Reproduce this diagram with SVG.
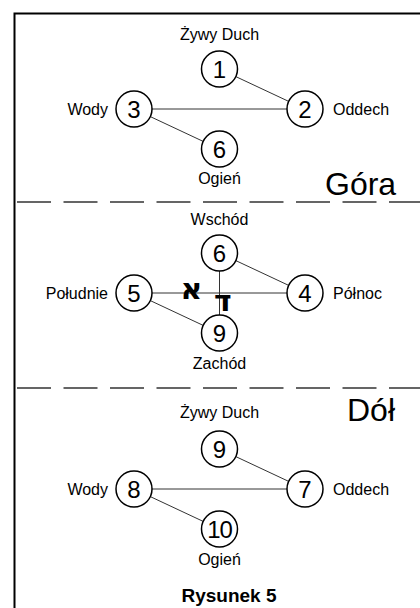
<svg xmlns="http://www.w3.org/2000/svg" width="420" height="608" viewBox="0 0 420 608">
<style>
.lbl{font-family:"Liberation Sans",Arial,sans-serif;font-size:16px;fill:#000}
.num{font-family:"Liberation Sans",Arial,sans-serif;font-size:24px;fill:#000;text-anchor:middle}
.big{font-family:"Liberation Sans",Arial,sans-serif;font-size:32px;fill:#000}
.node circle{fill:#fff;stroke:#000;stroke-width:1.5}
.conn line{stroke:#333;stroke-width:1}
.dash{stroke:#333;stroke-width:1.6;stroke-dasharray:34 12.5}
.heb{font-family:"DejaVu Sans","Liberation Sans",sans-serif;font-weight:bold;fill:#000}
</style>
<rect x="0" y="0" width="420" height="608" fill="#fff"/>
<rect x="14.5" y="13.5" width="420" height="620" fill="none" stroke="#000" stroke-width="2"/>
<line class="dash" x1="17" y1="202" x2="420" y2="202"/>
<line class="dash" x1="17" y1="388" x2="420" y2="388"/>
<g id="connectors" class="conn">
<line x1="235.8" y1="76.6" x2="288.7" y2="101.4"/>
<line x1="152" y1="109" x2="287" y2="109"/>
<line x1="150.3" y1="116.6" x2="203.2" y2="141.4"/>
<line x1="235.8" y1="260.6" x2="288.7" y2="285.4"/>
<line x1="152" y1="293" x2="287" y2="293"/>
<line x1="150.3" y1="300.6" x2="203.2" y2="325.4"/>
<line x1="219.5" y1="271" x2="219.5" y2="315"/>
<line x1="235.8" y1="456.6" x2="288.7" y2="481.4"/>
<line x1="152" y1="489" x2="287" y2="489"/>
<line x1="150.3" y1="496.6" x2="203.2" y2="521.4"/>
</g>
<g id="top-1" class="node"><circle cx="219.5" cy="69" r="18"/><text class="num" x="219.5" y="77.5">1</text><text class="lbl" x="219.5" y="40" text-anchor="middle">Żywy Duch</text></g>
<g id="top-2" class="node"><circle cx="305" cy="109" r="18"/><text class="num" x="305" y="117.5">2</text><text class="lbl" x="333" y="114.5">Oddech</text></g>
<g id="top-3" class="node"><circle cx="134" cy="109" r="18"/><text class="num" x="134" y="117.5">3</text><text class="lbl" x="108" y="114.5" text-anchor="end">Wody</text></g>
<g id="top-6" class="node"><circle cx="219.5" cy="149" r="18"/><text class="num" x="219.5" y="157.5">6</text><text class="lbl" x="219.5" y="184" text-anchor="middle">Ogień</text></g>
<text class="big" x="325" y="195">Góra</text>
<g id="mid-6" class="node"><circle cx="219.5" cy="253" r="18"/><text class="num" x="219.5" y="261.5">6</text><text class="lbl" x="219.5" y="225" text-anchor="middle">Wschód</text></g>
<g id="mid-4" class="node"><circle cx="305" cy="293" r="18"/><text class="num" x="305" y="301.5">4</text><text class="lbl" x="333" y="298.5">Północ</text></g>
<g id="mid-5" class="node"><circle cx="134" cy="293" r="18"/><text class="num" x="134" y="301.5">5</text><text class="lbl" x="108" y="298.5" text-anchor="end">Południe</text></g>
<g id="mid-9" class="node"><circle cx="219.5" cy="333" r="18"/><text class="num" x="219.5" y="341.5">9</text><text class="lbl" x="219.5" y="369" text-anchor="middle">Zachód</text></g>
<text class="heb" x="191.5" y="299" font-size="30" text-anchor="middle">א</text>
<text class="heb" x="214" y="311" font-size="30">ד</text>
<text class="big" x="347" y="421">Dół</text>
<g id="bot-9" class="node"><circle cx="219.5" cy="449" r="18"/><text class="num" x="219.5" y="457.5">9</text><text class="lbl" x="219.5" y="418" text-anchor="middle">Żywy Duch</text></g>
<g id="bot-7" class="node"><circle cx="305" cy="489" r="18"/><text class="num" x="305" y="497.5">7</text><text class="lbl" x="333" y="494.5">Oddech</text></g>
<g id="bot-8" class="node"><circle cx="134" cy="489" r="18"/><text class="num" x="134" y="497.5">8</text><text class="lbl" x="108" y="494.5" text-anchor="end">Wody</text></g>
<g id="bot-10" class="node"><circle cx="219.5" cy="529" r="18"/><text class="num" x="219.5" y="537.5" letter-spacing="-1">10</text><text class="lbl" x="219.5" y="565" text-anchor="middle">Ogień</text></g>
<text x="229" y="602" text-anchor="middle" style="font-family:'Liberation Sans',Arial,sans-serif;font-size:19px;font-weight:bold">Rysunek 5</text>
</svg>
